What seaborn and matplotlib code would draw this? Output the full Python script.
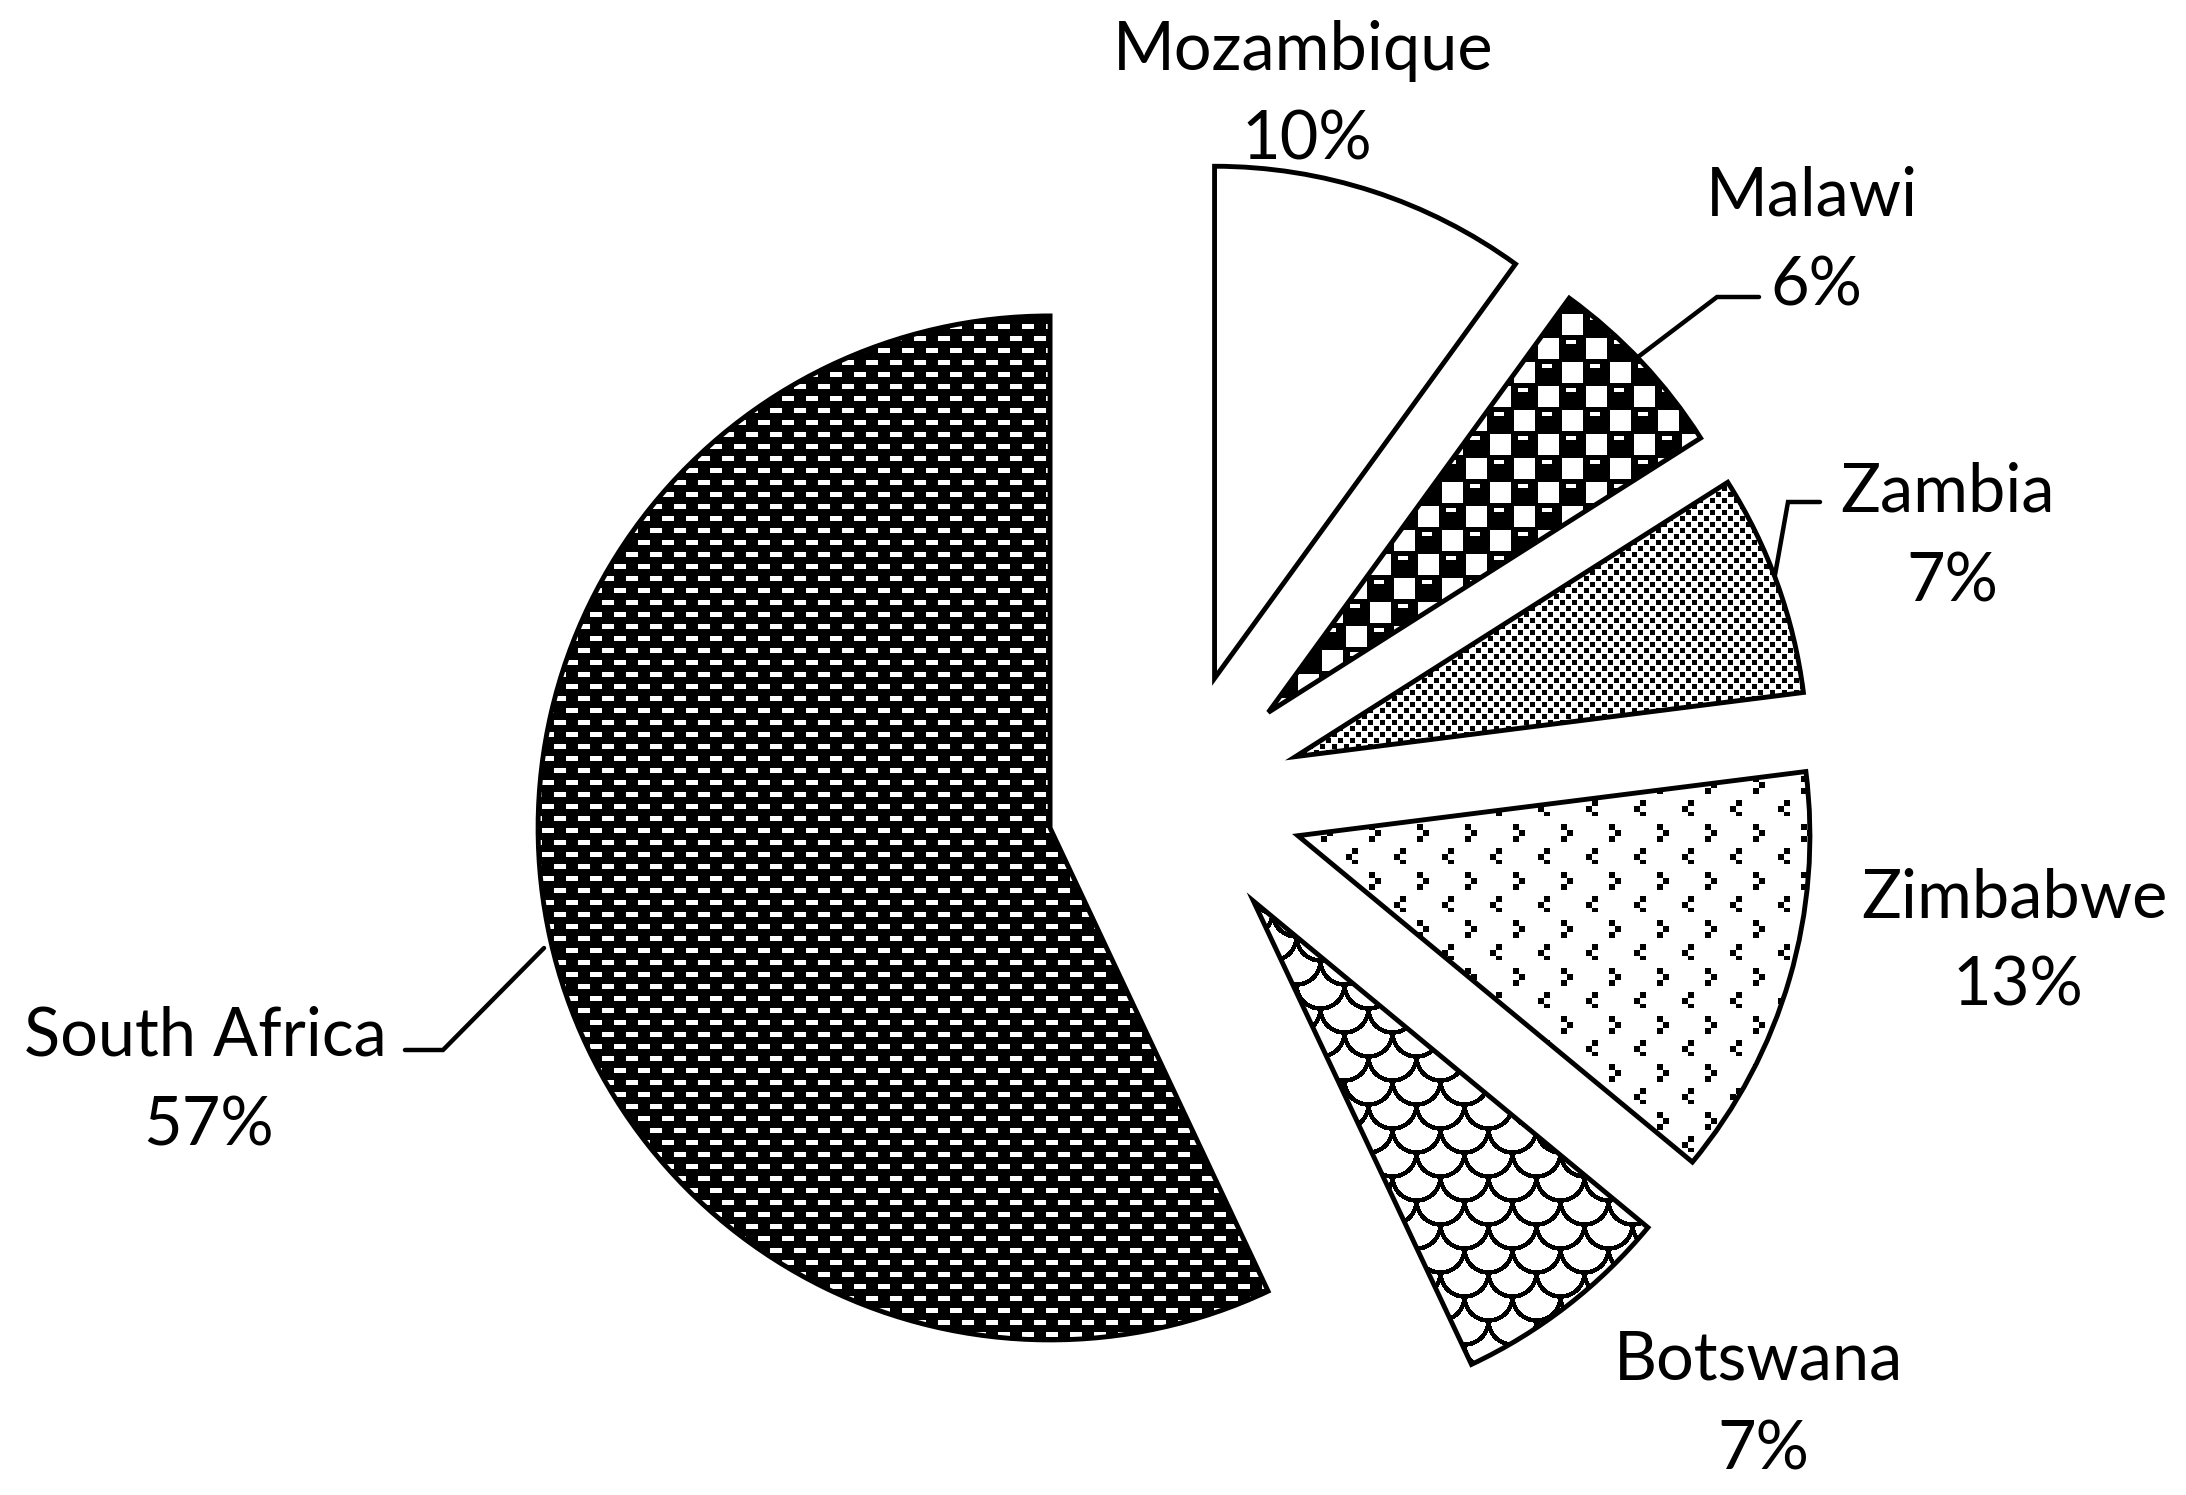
import numpy as np
import matplotlib
matplotlib.use("Agg")
import matplotlib.pyplot as plt
import seaborn as sns

# data
countries = ["Mozambique", "Malawi", "Zambia", "Zimbabwe", "Botswana", "South Africa"]
shares = [10, 6, 7, 13, 7, 57]
pct_labels = ["10%", "6%", "7%", "13%", "7%", "57%"]

W, H = 2186, 1495

sns.set_theme(style="white")
plt.rcParams["font.family"] = ["Lato", "DejaVu Sans"]


def pattern_tile(name):
    # returns a small 0/1 tile (1 = black)
    if name == "bricks":
        t = np.ones((24, 24))
        t[0:5, 2:14] = 0
        t[12:17, 14:24] = 0
        t[12:17, 0:2] = 0
        return t
    if name == "checker":
        t = np.ones((48, 48))
        t[2:23, 2:23] = 0
        t[26:47, 26:47] = 0
        t[4:8, 30:40] = 0
        t[28:32, 6:16] = 0
        return t
    if name == "fine":
        t = np.zeros((12, 12))
        t[0:5, 0:5] = 1
        t[6:11, 6:11] = 1
        return t
    if name == "arrows":
        t = np.zeros((48, 48))
        for dx, dy in [(0, 0), (6, 6), (0, 12)]:
            t[8 + dy:14 + dy, 25 + dx:31 + dx] = 1
        for dx, dy in [(6, 0), (0, 6), (6, 12)]:
            t[32 + dy:38 + dy, 2 + dx:8 + dx] = 1
        return t
    if name == "scales":
        yy, xx = np.mgrid[0:48, 0:48]
        t = np.zeros((48, 48))
        for cx in range(-48, 97, 24):
            for cy in range(-48, 97, 24):
                if ((cx // 24) + (cy // 24)) % 2:
                    continue
                d = np.hypot(xx - cx, yy - cy)
                t[(np.abs(d - 24) < 2.3) & (yy >= cy)] = 1
        return t
    return None


def full_pattern(name):
    t = pattern_tile(name)
    reps = (H // t.shape[0] + 1, W // t.shape[1] + 1)
    return np.tile(t, reps)[:H, :W]


patterns = [None, "checker", "fine", "arrows", "scales", "bricks"]

fig = plt.figure(figsize=(W / 100, H / 100), dpi=100, facecolor="white")
ax = fig.add_axes([0, 0, 1, 1])

cx, cy, r = 1175, H - 800, 512
# matplotlib applies explode as an absolute offset, so scale it by the radius
wedges, _ = ax.pie(
    shares,
    explode=[0.25 * r] * len(shares),
    startangle=90,
    counterclock=False,
    center=(cx, cy),
    radius=r,
    colors=["none"] * len(shares),
    wedgeprops=dict(edgecolor="black", linewidth=3.5, zorder=3, joinstyle="miter"),
)

for w, p in zip(wedges, patterns):
    if p is None:
        continue
    im = ax.imshow(full_pattern(p), cmap="gray_r", vmin=0, vmax=1,
                   extent=(0, W, 0, H), origin="upper",
                   interpolation="nearest", zorder=2)
    im.set_clip_path(w)

ax.set_xlim(0, W)
ax.set_ylim(0, H)
ax.set_aspect("equal")
ax.axis("off")

# label layout (pixel positions from top-left: x centre, first baseline)
label_pos = [(1303, 70), (1812, 216), (1948, 512), (2014, 917), (1759, 1380), (205, 1056)]
line_gap = 89
for name, pct, (lx, ly) in zip(countries, pct_labels, label_pos):
    ax.text(lx, H - ly, name, ha="center", va="baseline", fontsize=48, color="black")
    ax.text(lx + 4, H - ly - line_gap, pct, ha="center", va="baseline", fontsize=48, color="black")

leaders = {
    "Malawi": [(1759, 297), (1717, 297), (1634, 360)],
    "Zambia": [(1820, 502), (1788, 502), (1775, 575)],
    "South Africa": [(405, 1050), (443, 1050), (544, 948)],
}
for pts in leaders.values():
    xs = [p[0] for p in pts]
    ys = [H - p[1] for p in pts]
    ax.plot(xs, ys, color="black", linewidth=3.2, zorder=4, solid_joinstyle="miter")

fig.savefig("out.png", dpi=100, facecolor="white")
